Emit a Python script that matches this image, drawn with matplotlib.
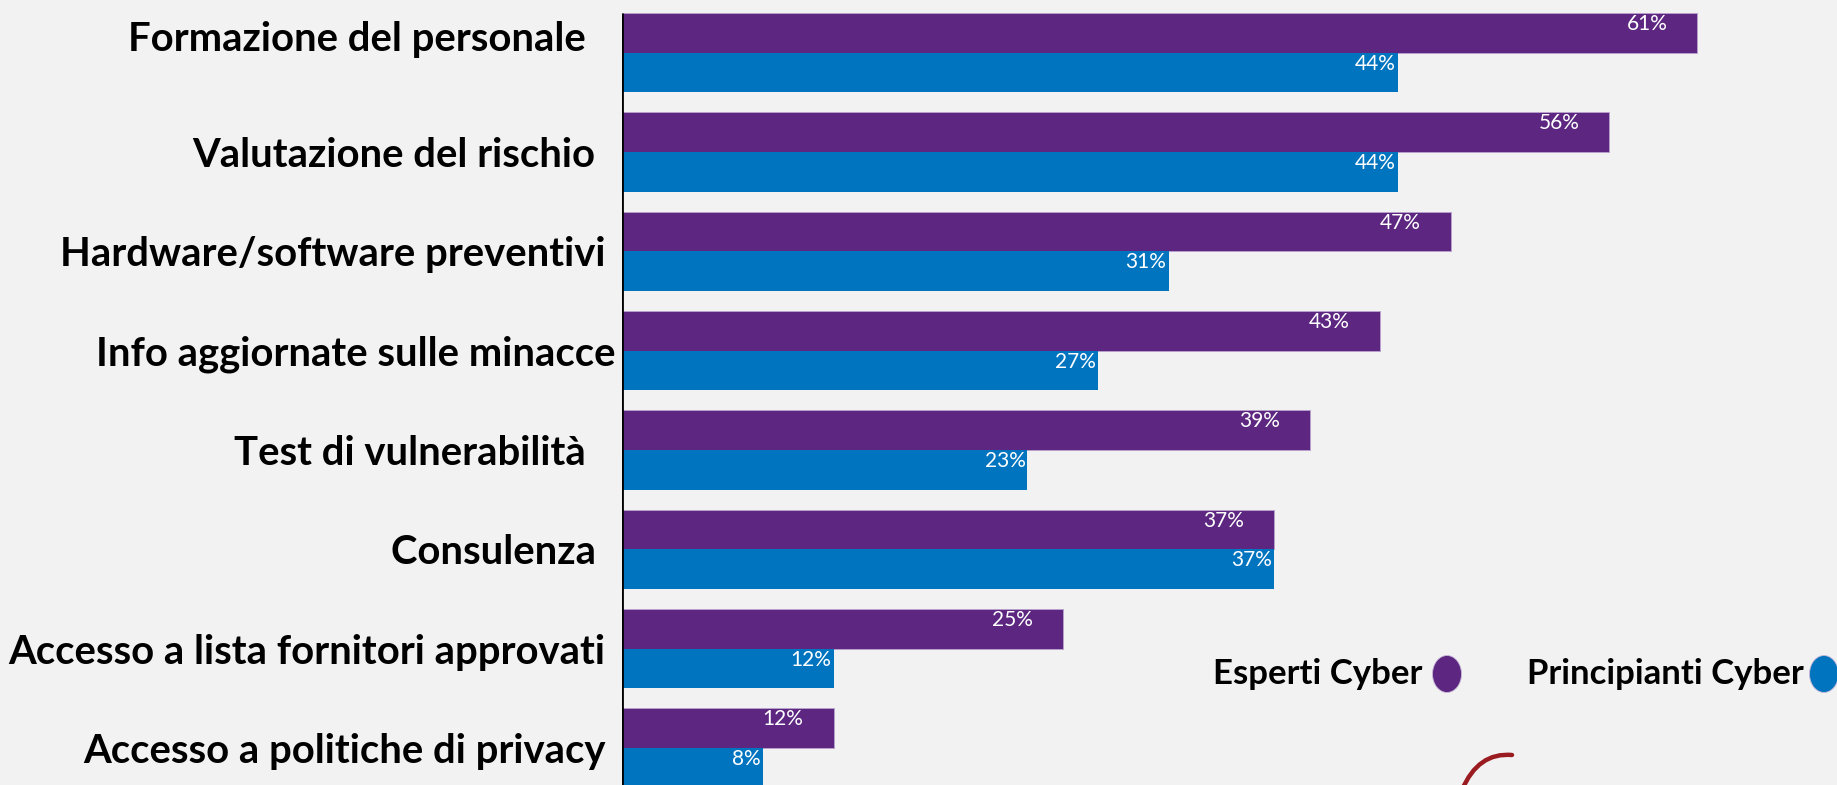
import matplotlib
matplotlib.use("Agg")
import matplotlib.pyplot as plt
from matplotlib.patches import Ellipse, PathPatch
from matplotlib.path import Path
from matplotlib.transforms import ScaledTranslation
import numpy as np

categories = [
    "Formazione del personale   ",
    "Valutazione del rischio  ",
    "Hardware/software preventivi ",
    "Info aggiornate sulle minacce",
    "Test di vulnerabilità   ",
    "Consulenza  ",
    "Accesso a lista fornitori approvati ",
    "Accesso a politiche di privacy ",
]
esperti = [61, 56, 47, 43, 39, 37, 25, 12]
principianti = [44, 44, 31, 27, 23, 37, 12, 8]
series_names = ["Esperti Cyber", "Principianti Cyber"]

PURPLE = "#5c2681"
BLUE = "#0074bf"
BG = "#f2f2f2"
FONT = "Lato"

W, H = 1837, 785
fig = plt.figure(figsize=(W / 100, H / 100), dpi=100)
fig.patch.set_facecolor(BG)

x0 = 622
ax = fig.add_axes([x0 / W, 0, 1 - x0 / W, 1])
ax.set_facecolor(BG)

y = np.arange(len(categories))
h = 0.4
ax.barh(y - h / 2, esperti, height=h, color=PURPLE, edgecolor="#b7a0cc", linewidth=0.7)
ax.barh(y + h / 2, principianti, height=h, color=BLUE, linewidth=0)

ax.set_xlim(0, (W - x0) / 17.63)
ax.set_ylim(7.374, -0.531)

for s in ax.spines.values():
    s.set_visible(False)
ax.vlines(0, -0.4, 7.374, color="black", lw=2.0, zorder=5)

ax.set_xticks([])
ax.set_yticks(y)
ax.set_yticklabels(categories, fontsize=28.8, fontweight="bold", family=FONT)
ax.tick_params(axis="y", length=0, pad=5)
# first label sits a bit higher in the original
first = ax.get_yticklabels()[0]
first.set_transform(first.get_transform() + ScaledTranslation(0, 0.17, fig.dpi_scale_trans))

for i, (a, b) in enumerate(zip(esperti, principianti)):
    ax.annotate(f"{a}%", xy=(a, i - h), xytext=(-30, -1), textcoords="offset pixels",
                ha="right", va="top", color="white", fontsize=15, family=FONT)
    ax.annotate(f"{b}%", xy=(b, i), xytext=(-2, -1), textcoords="offset pixels",
                ha="right", va="top", color="white", fontsize=15, family=FONT)

# legend drawn as text + ellipses
def fx(px):
    return px / W

def fy(py):
    return 1 - py / H

fig.text(fx(1213), fy(674), series_names[0], ha="left", va="center",
         fontsize=25, fontweight="bold", family=FONT)
fig.text(fx(1527), fy(674), series_names[1], ha="left", va="center",
         fontsize=25, fontweight="bold", family=FONT)
for cx, col in [(1447, PURPLE), (1824, BLUE)]:
    fig.add_artist(Ellipse((fx(cx), fy(674)), 29 / W, 37 / H, transform=fig.transFigure,
                           facecolor=col, edgecolor="#c9b8d8", linewidth=0.6))

# partial logo stroke at the bottom
verts = [(fx(1462), fy(790)), (fx(1478), fy(752)), (fx(1512), fy(755))]
logo = Path(verts, [Path.MOVETO, Path.CURVE3, Path.CURVE3])
fig.add_artist(PathPatch(logo, transform=fig.transFigure, facecolor="none",
                         edgecolor="#9b1c20", linewidth=3.2, capstyle="round"))

fig.savefig("out.png", dpi=100, facecolor=BG)
